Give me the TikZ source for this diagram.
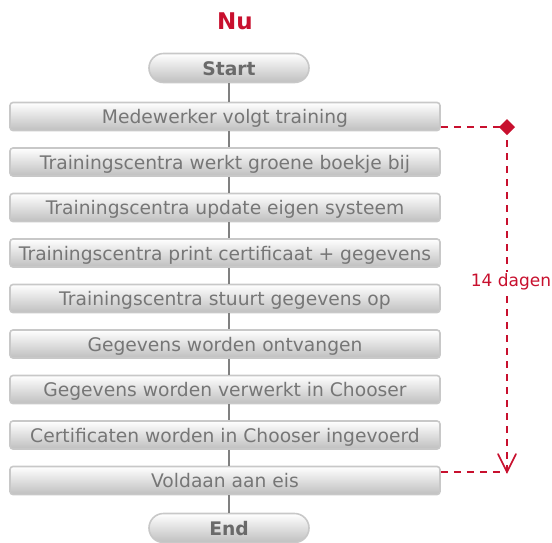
\documentclass[tikz,border=0pt]{standalone}
\usepackage{fontspec}
\setmainfont{DejaVu Sans}
\usetikzlibrary{arrows.meta,shapes.misc}
\definecolor{nured}{HTML}{C8102E}
\definecolor{boxtext}{HTML}{767676}
\definecolor{boxborder}{HTML}{C8C8C8}
\definecolor{conn}{HTML}{808080}
\tikzset{
  stepbox/.style={draw=boxborder, line width=1.6pt, rounded corners=3pt,
    top color=white, bottom color=black!25, minimum width=430pt, minimum height=28pt,
    inner sep=0pt, text height=15.5pt, text depth=1.5pt, text=boxtext, font=\fontsize{18.7}{20}\selectfont},
  termbox/.style={draw=boxborder, line width=1.6pt, rounded rectangle,
    top color=white, bottom color=black!25, minimum width=160pt, minimum height=29pt,
    inner sep=0pt, text height=15.5pt, text depth=1.5pt, text=boxtext!90!black, font=\fontsize{18.7}{20}\selectfont\bfseries},
  conn/.style={draw=conn, line width=1.6pt},
  reddash/.style={draw=nured, line width=1.6pt, dash pattern=on 7pt off 6pt}
}
\begin{document}
\begin{tikzpicture}[x=1pt,y=-1pt]
\useasboundingbox (0,0) rectangle (552,542);
\node[text=nured, font=\fontsize{23}{26}\selectfont\bfseries] (title) at (235,21) {Nu};
\node[termbox] (start) at (229,68) {Start};
\node[stepbox] (s1) at (225,116.5) {Medewerker volgt training};
\node[stepbox] (s2) at (225,162) {Trainingscentra werkt groene boekje bij};
\node[stepbox] (s3) at (225,207.5) {Trainingscentra update eigen systeem};
\node[stepbox] (s4) at (225,253) {Trainingscentra print certificaat + gegevens};
\node[stepbox] (s5) at (225,298.5) {Trainingscentra stuurt gegevens op};
\node[stepbox] (s6) at (225,344) {Gegevens worden ontvangen};
\node[stepbox] (s7) at (225,389.5) {Gegevens worden verwerkt in Chooser};
\node[stepbox] (s8) at (225,435) {Certificaten worden in Chooser ingevoerd};
\node[stepbox] (s9) at (225,480.5) {Voldaan aan eis};
\node[termbox] (end) at (229,528) {End};
\foreach \a/\b in {start/s1,s1/s2,s2/s3,s3/s4,s4/s5,s5/s6,s6/s7,s7/s8,s8/s9,s9/end}{
  \draw[conn] (\a.south -| start.south) -- (\b.north -| start.south);
}
\coordinate (d) at (507,127);
\coordinate (a) at (507,472);
\draw[reddash] (s1.east |- d) -- (d);
\draw[reddash] (s9.east |- a) -- (a);
\draw[reddash] (d) -- (a);
\draw[draw=nured, line width=1.6pt, line cap=round] (498,454) -- (a) -- (516,454);
\fill[nured] (d) ++(-8,0) -- ++(8,-8) -- ++(8,8) -- ++(-8,8) -- cycle;
\node[fill=white, text=nured, font=\fontsize{17}{19}\selectfont, inner sep=2pt] (lbl) at (511,282) {14 dagen};
\end{tikzpicture}
\end{document}
